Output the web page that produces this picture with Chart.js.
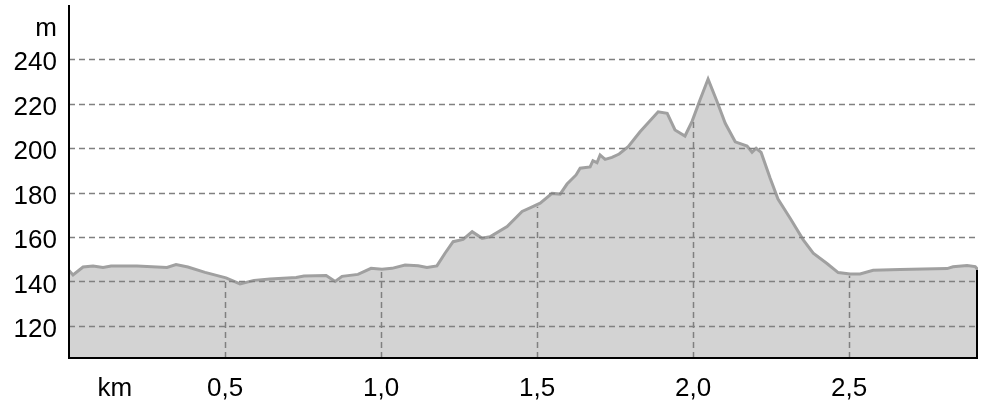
<!DOCTYPE html>
<html>
<head>
<meta charset="utf-8">
<script src="https://cdn.jsdelivr.net/npm/chart.js@4/dist/chart.umd.min.js"></script>
<style>
  html, body { margin: 0; padding: 0; background: #fff; }
  #wrap { width: 988px; height: 405px; }
</style>
</head>
<body>
<div id="wrap"><canvas id="profile"></canvas></div>
<script>
// Elevation profile (distance in km, altitude in m)
const distKm = [
  0.000, 0.013, 0.045, 0.077, 0.109, 0.135, 0.218, 0.314, 0.343, 0.381,
  0.436, 0.503, 0.548, 0.593, 0.644, 0.728, 0.753, 0.824, 0.853, 0.875,
  0.926, 0.968, 1.003, 1.035, 1.077, 1.119, 1.147, 1.179, 1.205, 1.231,
  1.263, 1.292, 1.324, 1.349, 1.404, 1.452, 1.481, 1.510, 1.548, 1.574,
  1.596, 1.625, 1.638, 1.670, 1.679, 1.692, 1.702, 1.718, 1.740, 1.763,
  1.792, 1.830, 1.888, 1.917, 1.942, 1.974, 1.997, 2.022, 2.048, 2.077,
  2.103, 2.135, 2.173, 2.189, 2.202, 2.218, 2.247, 2.272, 2.311, 2.353,
  2.385, 2.429, 2.465, 2.503, 2.535, 2.577, 2.663, 2.814, 2.833, 2.878,
  2.904, 2.913
];
const altM = [
  145.0, 142.9, 146.5, 147.0, 146.3, 147.0, 147.0, 146.3, 147.6, 146.5,
  144.1, 141.6, 138.9, 140.5, 141.1, 141.8, 142.5, 142.7, 140.0, 142.3,
  143.2, 145.9, 145.5, 145.9, 147.4, 147.1, 146.3, 147.0, 152.7, 157.9,
  158.9, 162.4, 159.4, 160.1, 164.7, 171.5, 173.3, 175.2, 179.6, 179.3,
  183.8, 187.9, 190.9, 191.5, 194.3, 193.4, 196.9, 194.9, 195.8, 197.3,
  200.6, 207.3, 216.3, 215.6, 208.1, 205.4, 212.1, 221.6, 231.0, 220.8,
  211.1, 202.8, 200.9, 198.1, 199.9, 198.0, 186.4, 177.1, 168.4, 158.7,
  152.7, 148.1, 144.0, 143.4, 143.4, 145.0, 145.4, 145.8, 146.6, 147.2,
  146.7, 145.2
];

const yTicks = [120, 140, 160, 180, 200, 220, 240];
const xTicks = [0.5, 1.0, 1.5, 2.0, 2.5];
const yUnit = 'm';
const xUnit = 'km';
const yUnitAt = 255.5;  // where the "m" label sits on the y axis
const xUnitAt = 0.147;  // where the "km" label sits on the x axis

const GRID = '#808080';
const FONT = { family: 'Liberation Sans, Arial, sans-serif', size: 26 };

function altAt(km) {
  for (let i = 1; i < distKm.length; i++) {
    if (km <= distKm[i]) {
      const t = (km - distKm[i - 1]) / (distKm[i] - distKm[i - 1]);
      return altM[i - 1] + t * (altM[i] - altM[i - 1]);
    }
  }
  return altM[altM.length - 1];
}

// grid lines on top of the fill, vertical ones only under the profile
const gridPlugin = {
  id: 'profileGrid',
  afterDatasetsDraw(chart) {
    const { ctx, chartArea: a, scales: { x, y } } = chart;
    ctx.save();
    ctx.strokeStyle = GRID;
    ctx.lineWidth = 1.5;
    ctx.setLineDash([6, 4]);
    yTicks.forEach(v => {
      const py = Math.round(y.getPixelForValue(v)) + 0.5;
      ctx.beginPath();
      ctx.moveTo(a.left, py);
      ctx.lineTo(a.right, py);
      ctx.stroke();
    });
    xTicks.forEach(v => {
      const px = Math.round(x.getPixelForValue(v)) + 0.5;
      ctx.beginPath();
      ctx.moveTo(px, a.bottom);
      ctx.lineTo(px, y.getPixelForValue(altAt(v)) + 2);
      ctx.stroke();
    });
    ctx.setLineDash([]);
    // axes
    ctx.strokeStyle = '#000';
    ctx.lineWidth = 2;
    ctx.beginPath();
    ctx.moveTo(a.left, a.top);
    ctx.lineTo(a.left, a.bottom);
    ctx.lineTo(a.right, a.bottom);
    ctx.stroke();
    // right edge of the profile
    ctx.beginPath();
    ctx.moveTo(a.right - 1, y.getPixelForValue(altM[altM.length - 1]));
    ctx.lineTo(a.right - 1, a.bottom);
    ctx.stroke();
    ctx.restore();
  }
};

const points = distKm.map((d, i) => ({ x: d, y: altM[i] }));

new Chart(document.getElementById('profile'), {
  type: 'line',
  data: {
    datasets: [{
      data: points,
      borderColor: '#a0a0a0',
      borderWidth: 3,
      backgroundColor: '#d3d3d3',
      fill: 'start',
      pointRadius: 0,
      tension: 0
    }]
  },
  options: {
    responsive: true,
    maintainAspectRatio: false,
    animation: false,
    layout: { padding: { top: 5, right: 10, left: 0, bottom: 0 } },
    plugins: {
      legend: { display: false },
      tooltip: { enabled: false }
    },
    scales: {
      x: {
        type: 'linear',
        min: 0,
        max: 2.913,
        grid: { display: false, drawTicks: false },
        border: { display: false },
        afterBuildTicks: s => {
          s.ticks = [{ value: xUnitAt }].concat(xTicks.map(v => ({ value: v })));
        },
        afterFit: s => {
          s.height = 47;
          s.paddingLeft = 0;
          s.paddingRight = 0;
        },
        ticks: {
          autoSkip: false,
          maxRotation: 0,
          padding: 15,
          color: '#000',
          font: FONT,
          callback: v => v === xUnitAt ? xUnit : v.toFixed(1).replace('.', ',')
        }
      },
      y: {
        min: 105.6,
        max: 264.3,
        grid: { display: false, drawTicks: false },
        border: { display: false },
        afterBuildTicks: s => {
          s.ticks = yTicks.map(v => ({ value: v })).concat([{ value: yUnitAt }]);
        },
        afterFit: s => {
          s.width = 69;
          s.paddingTop = 0;
          s.paddingBottom = 0;
        },
        ticks: {
          autoSkip: false,
          padding: 12,
          labelOffset: 4,
          color: '#000',
          font: FONT,
          callback: v => v === yUnitAt ? yUnit : String(v)
        }
      }
    }
  },
  plugins: [gridPlugin]
});
</script>
</body>
</html>
